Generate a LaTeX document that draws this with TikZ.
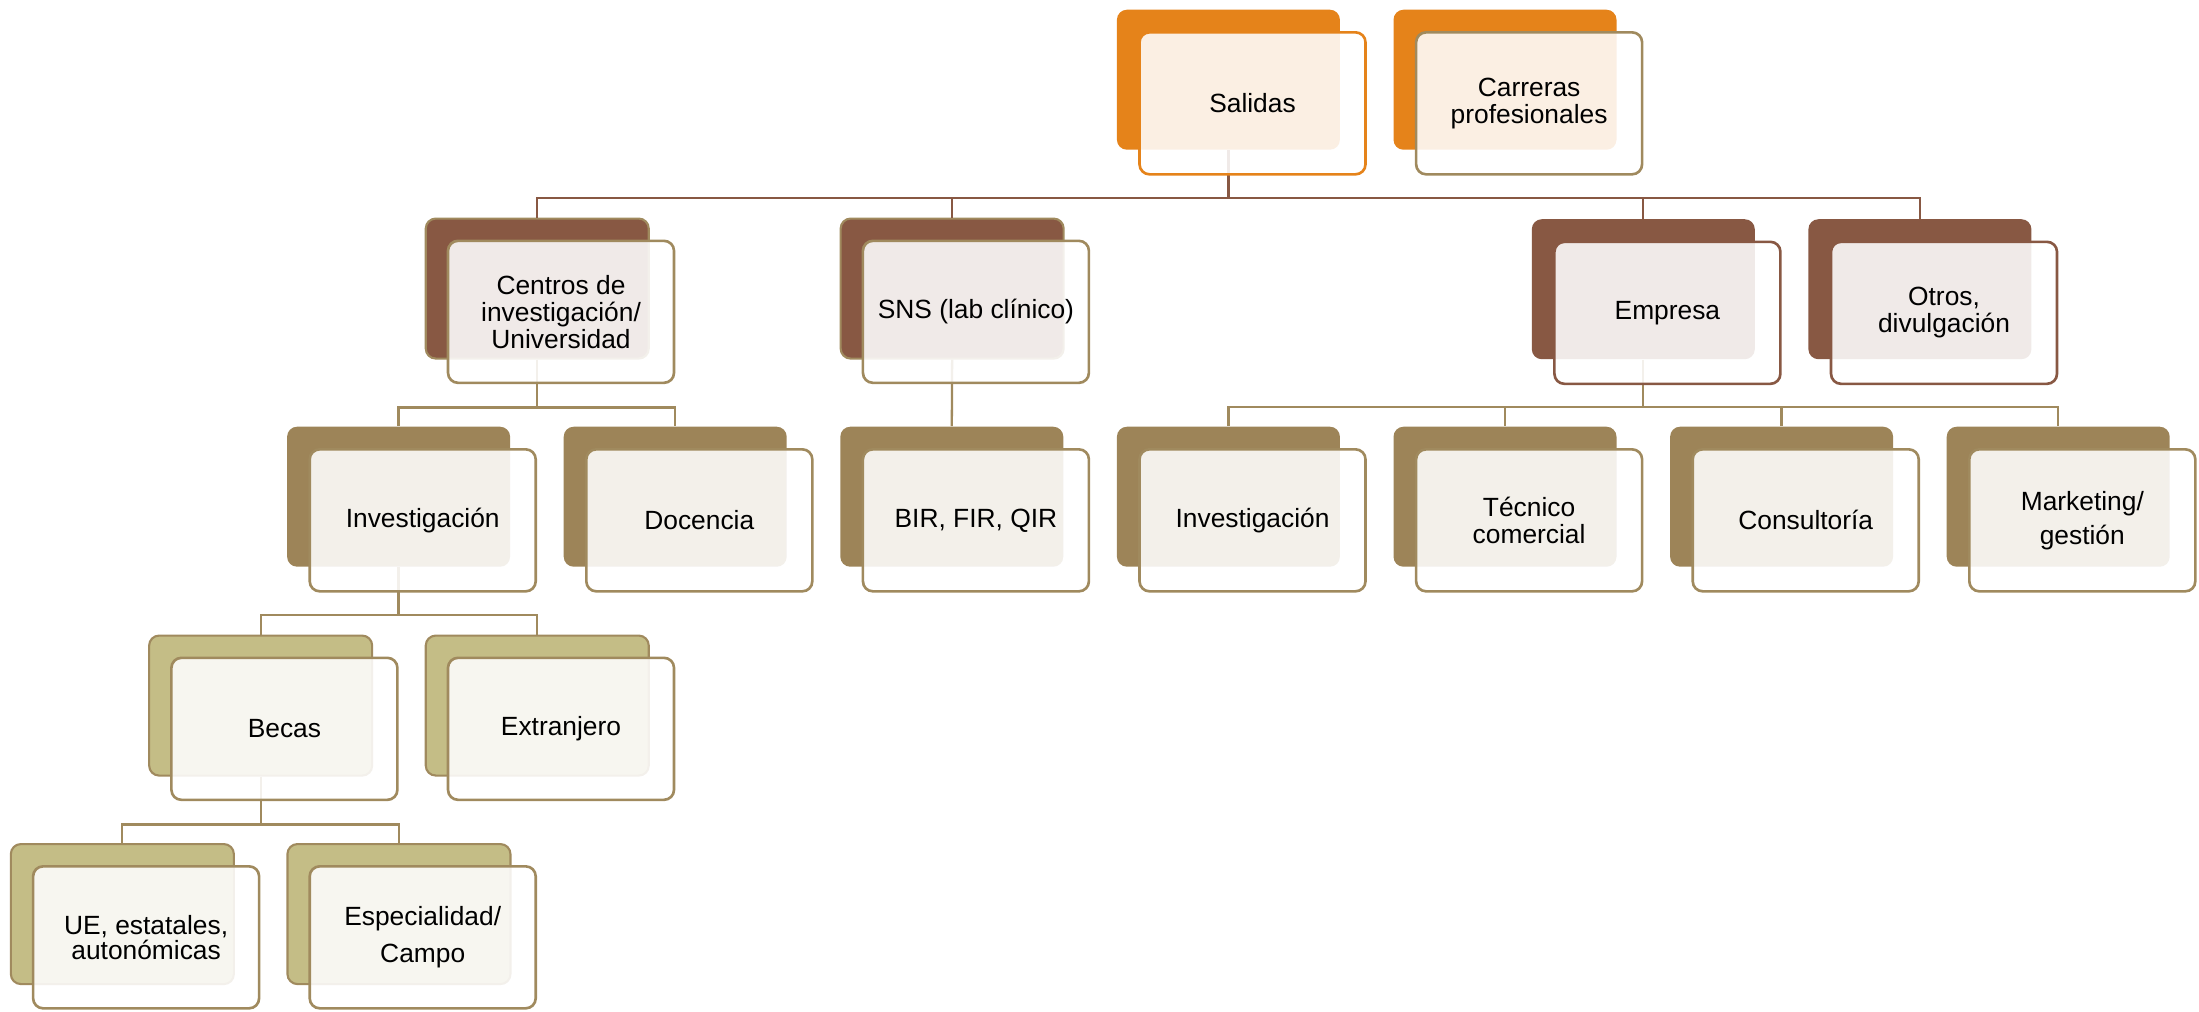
\documentclass[tikz,border=0pt]{standalone}
\usepackage{fontspec}
\setmainfont{Liberation Sans}
\usetikzlibrary{positioning}

\definecolor{salOrange}{HTML}{E5831A}
\definecolor{darkBrown}{HTML}{885843}
\definecolor{midTan}{HTML}{9D8458}
\definecolor{edgeTan}{HTML}{A08A5E}
\definecolor{paleOlive}{HTML}{C4BD86}

\tikzset{
  backbox/.style={rectangle, rounded corners=1mm, anchor=north west,
    minimum width=22.3mm, minimum height=14mm, inner sep=0pt},
  frontbox/.style={rectangle, rounded corners=1mm, draw=#1, line width=0.75pt,
    fill=white, fill opacity=0.88, text opacity=1,
    minimum width=22.6mm, minimum height=14.2mm, inner sep=0pt, align=center,
    font=\fontsize{7.5}{7.7}\selectfont},
  toplink/.style={draw=darkBrown, line width=0.65pt},
  sublink/.style={draw=edgeTan, line width=0.65pt}
}

\begin{document}
\begin{tikzpicture}[x=0.1mm, y=-0.1mm]
\useasboundingbox (0,0) rectangle (2199,1011);

% back boxes
%Row 0
\node[backbox, fill=salOrange] (salidas) at (1116.2,9) {};
\node[backbox, fill=salOrange] (carreras) at (1392.8,9) {};

%Row 1
\node[backbox, fill=darkBrown, draw=edgeTan, line width=0.6pt] (centros) at (424.7,217.5) {};
\node[backbox, fill=darkBrown, draw=edgeTan, line width=0.6pt] (sns) at (839.6,217.5) {};
\node[backbox, fill=darkBrown] (empresa) at (1531.1,218.5) {};
\node[backbox, fill=darkBrown] (otros) at (1807.7,218.5) {};

%Row 2
\node[backbox, fill=midTan] (invest) at (286.4,426) {};
\node[backbox, fill=midTan] (docencia) at (563.0,426) {};
\node[backbox, fill=midTan] (bir) at (839.6,426) {};
\node[backbox, fill=midTan] (investB) at (1116.2,426) {};
\node[backbox, fill=midTan] (tecnico) at (1392.8,426) {};
\node[backbox, fill=midTan] (consult) at (1669.4,426) {};
\node[backbox, fill=midTan] (marketing) at (1946.0,426) {};

%Row 3
\node[backbox, fill=paleOlive, draw=edgeTan, line width=0.6pt] (becas) at (148.1,634.5) {};
\node[backbox, fill=paleOlive, draw=edgeTan, line width=0.6pt] (extranjero) at (424.7,634.5) {};

%Row 4
\node[backbox, fill=paleOlive, draw=edgeTan, line width=0.6pt] (ue) at (9.8,843) {};
\node[backbox, fill=paleOlive, draw=edgeTan, line width=0.6pt] (especial) at (286.4,843) {};

% connectors
\foreach \c in {centros,sns,empresa,otros}
  \draw[toplink] (salidas.south) -- ++(0,47.75) -| (\c.north);
\foreach \c in {invest,docencia}
  \draw[sublink] (centros.south) -- ++(0,47.75) -| (\c.north);
\draw[sublink] (sns.south) -- (bir.north);
\foreach \c in {investB,tecnico,consult,marketing}
  \draw[sublink] (empresa.south) -- ++(0,46.75) -| (\c.north);
\foreach \c in {becas,extranjero}
  \draw[sublink] (invest.south) -- ++(0,47.75) -| (\c.north);
\foreach \c in {ue,especial}
  \draw[sublink] (becas.south) -- ++(0,47.75) -| (\c.north);

% front boxes with the text
\node[frontbox=salOrange, below right=2.2mm and 2.2mm of salidas.north west] (salidas-t) {Salidas};
\node[frontbox=edgeTan, below right=2.2mm and 2.2mm of carreras.north west] (carreras-t) {Carreras\\profesionales};

\node[frontbox=edgeTan, below right=2.2mm and 2.2mm of centros.north west] (centros-t) {Centros de\\investigación/\\Universidad};
\node[frontbox=edgeTan, below right=2.2mm and 2.2mm of sns.north west] (sns-t) {SNS (lab clínico)};
\node[frontbox=darkBrown, below right=2.2mm and 2.2mm of empresa.north west] (empresa-t) {Empresa};
\node[frontbox=darkBrown, below right=2.2mm and 2.2mm of otros.north west] (otros-t) {Otros,\\divulgación};

\node[frontbox=edgeTan, below right=2.2mm and 2.2mm of invest.north west] (invest-t) {Investigación};
\node[frontbox=edgeTan, below right=2.2mm and 2.2mm of docencia.north west] (docencia-t) {Docencia};
\node[frontbox=edgeTan, below right=2.2mm and 2.2mm of bir.north west] (bir-t) {BIR, FIR, QIR};
\node[frontbox=edgeTan, below right=2.2mm and 2.2mm of investB.north west] (investB-t) {Investigación};
\node[frontbox=edgeTan, below right=2.2mm and 2.2mm of tecnico.north west] (tecnico-t) {Técnico\\comercial};
\node[frontbox=edgeTan, below right=2.2mm and 2.2mm of consult.north west] (consult-t) {Consultoría};
\node[frontbox=edgeTan, below right=2.2mm and 2.2mm of marketing.north west] (marketing-t) {Marketing/\\[2pt]gestión};

\node[frontbox=edgeTan, below right=2.2mm and 2.2mm of becas.north west] (becas-t) {Becas};
\node[frontbox=edgeTan, below right=2.2mm and 2.2mm of extranjero.north west] (extranjero-t) {Extranjero};

\node[frontbox=edgeTan, below right=2.2mm and 2.2mm of ue.north west] (ue-t) {UE, estatales,\\[-0.5pt]autonómicas};
\node[frontbox=edgeTan, below right=2.2mm and 2.2mm of especial.north west] (especial-t) {Especialidad/\\[2.8pt]Campo};

\end{tikzpicture}
\end{document}
